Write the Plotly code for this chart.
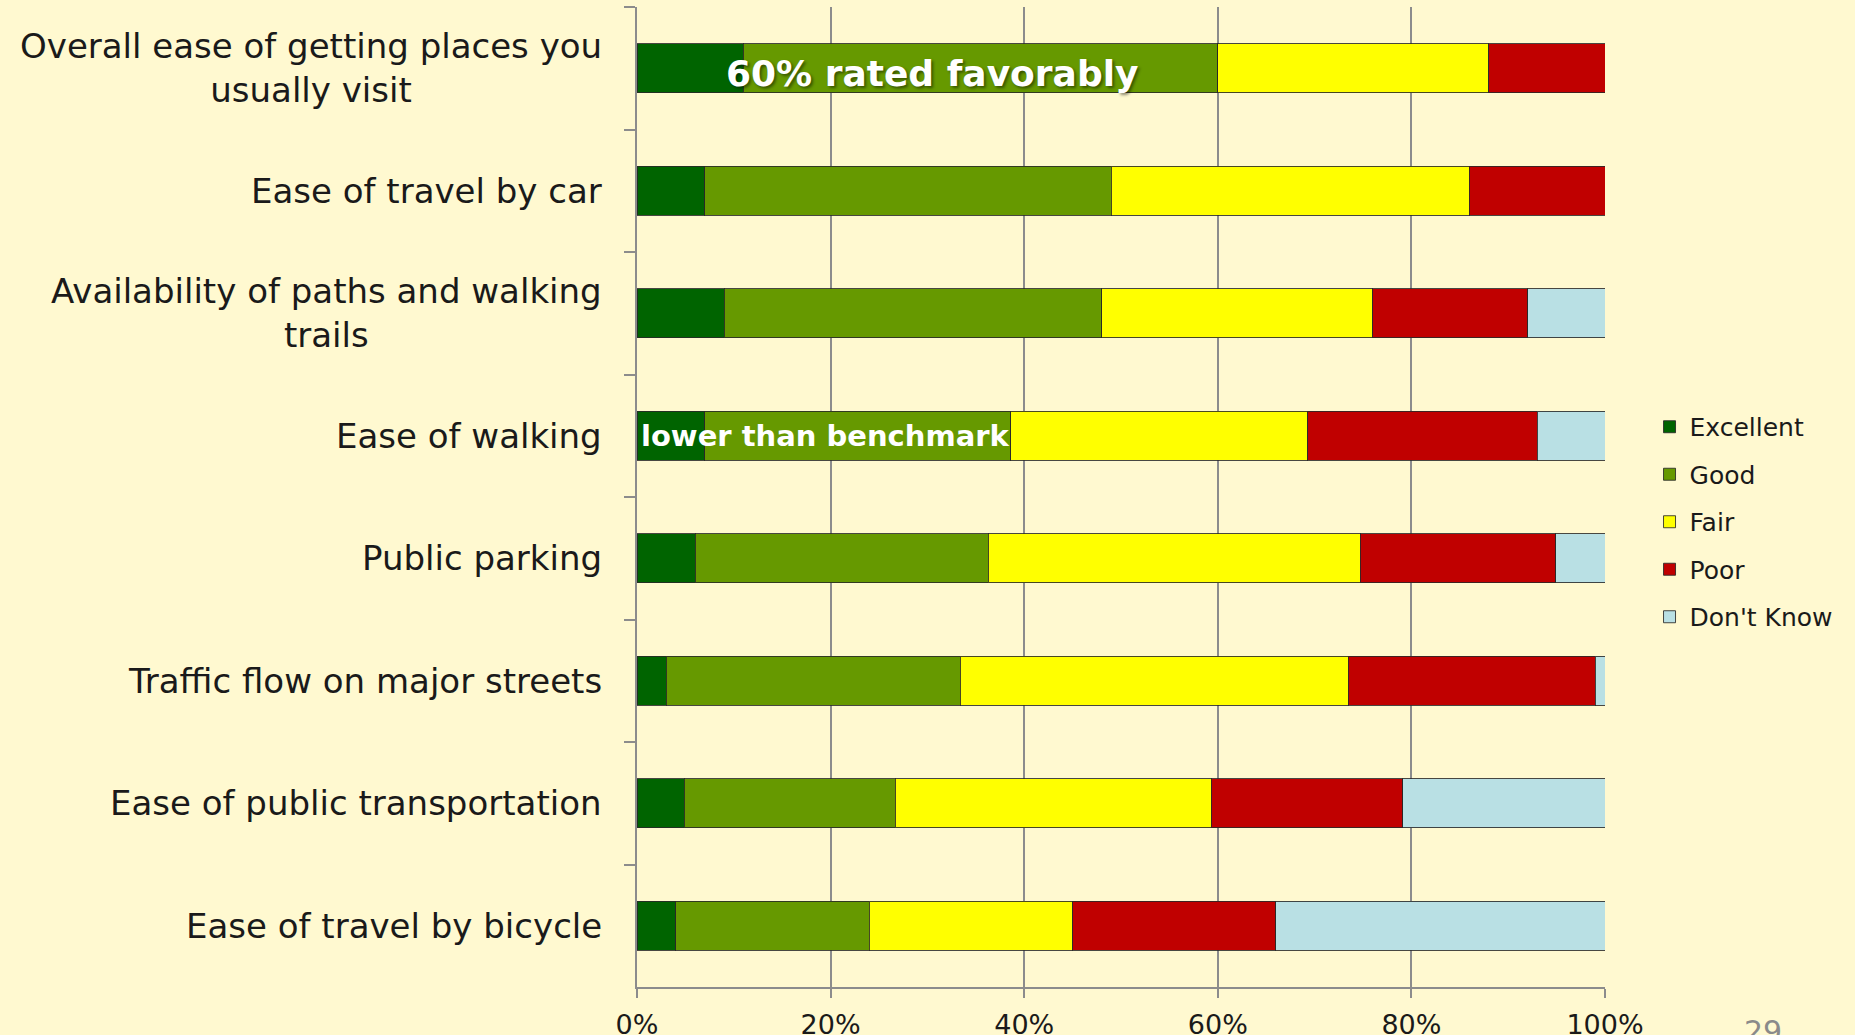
import plotly.graph_objects as go

categories = [
    "Overall ease of getting places you<br>usually visit",
    "Ease of travel by car",
    "Availability of paths and walking<br>trails",
    "Ease of walking",
    "Public parking",
    "Traffic flow on major streets",
    "Ease of public transportation",
    "Ease of travel by bicycle",
]

excellent = [11, 7, 9, 7, 6, 3, 4.9, 4]
good = [49, 42, 39, 31.6, 30.3, 30.4, 21.8, 20]
fair = [28, 37, 28, 30.7, 38.4, 40.1, 32.6, 21]
poor = [12, 14, 16, 23.7, 20.2, 25.5, 19.8, 21]
dont_know = [None, None, 8, 7, 5.1, 1, 20.9, 34]

series_names = ["Excellent", "Good", "Fair", "Poor", "Don't Know"]
series_values = [excellent, good, fair, poor, dont_know]
series_colors = ["#006400", "#669900", "#FFFF00", "#C00000", "#B9E0E4"]

x_ticks = [0, 20, 40, 60, 80, 100]
x_tick_labels = ["0%", "20%", "40%", "60%", "80%", "100%"]

callouts = [
    ("60% rated favorably", categories[0], 30.5, 36, -5),
    ("lower than benchmark", categories[3], 19.5, 29, 0),
]

BG = "#FFF9D0"
FONT = "DejaVu Sans"

fig = go.Figure()
for name, vals, col in zip(series_names, series_values, series_colors):
    fig.add_trace(go.Bar(
        y=categories, x=vals, name=name, orientation="h",
        marker=dict(color=col, line=dict(color="rgba(40,40,40,0.85)", width=1)),
        legendgroup=name,
        hoverinfo="skip",
    ))

annotations = []
for cat in categories:
    annotations.append(dict(
        x=0, xref="paper", y=cat, yref="y", text=cat, showarrow=False,
        xanchor="right", yanchor="middle", align="center", xshift=-33,
        font=dict(family=FONT, size=34, color="#1a1a1a"),
    ))
for text, cat, xpos, size, ys in callouts:
    annotations.append(dict(
        x=xpos, xref="x", y=cat, yref="y", text="<b>" + text + "</b>",
        showarrow=False, xanchor="center", yanchor="middle", yshift=ys,
        font=dict(family=FONT, size=size, color="white",
                  shadow="2px 2px 3px rgba(0,0,0,0.45)" if size > 30 else "none"),
    ))
annotations.append(dict(
    x=1.163, xref="paper", y=-0.026, yref="paper", text="29", showarrow=False,
    xanchor="center", yanchor="top",
    font=dict(family=FONT, size=30, color="#8a8a8a"),
))

fig.update_layout(
    width=1855, height=1035,
    barmode="stack", bargap=0.6,
    paper_bgcolor=BG, plot_bgcolor=BG,
    margin=dict(l=637, r=250, t=7, b=48, autoexpand=False),
    font=dict(family=FONT, color="#1a1a1a"),
    showlegend=True,
    legend=dict(
        x=1.046, xanchor="left", y=0.4745, yanchor="middle",
        traceorder="grouped", tracegroupgap=12,
        font=dict(family=FONT, size=25, color="#1a1a1a"),
        bgcolor="rgba(0,0,0,0)",
    ),
    annotations=annotations,
)
fig.update_xaxes(
    range=[0, 100], tickvals=x_ticks, ticktext=x_tick_labels,
    showgrid=True, gridcolor="#8c8c8c", gridwidth=1.5,
    showline=True, linecolor="#8c8c8c", linewidth=2,
    ticks="outside", ticklen=9, tickcolor="#8c8c8c", tickwidth=1.5,
    ticklabelstandoff=4, automargin=False,
    zeroline=False,
    tickfont=dict(family=FONT, size=27, color="#1a1a1a"),
)
fig.update_yaxes(
    autorange="reversed", type="category",
    showticklabels=False, tickson="boundaries", automargin=False,
    ticks="outside", ticklen=11, tickcolor="#8c8c8c", tickwidth=2,
    showline=True, linecolor="#8c8c8c", linewidth=2,
    showgrid=False, zeroline=False,
)

fig.write_html(
    "out.html",
    config={"displayModeBar": False},
    post_script="document.body.style.margin='0';document.body.style.overflow='hidden';",
)
